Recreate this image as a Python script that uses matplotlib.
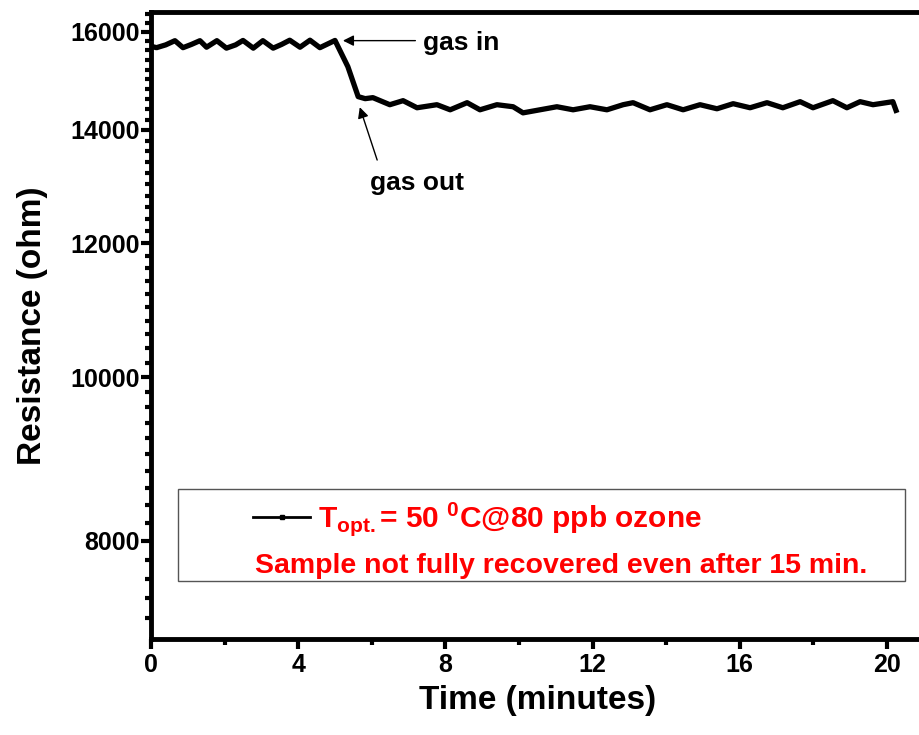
import numpy as np
import matplotlib
matplotlib.use("Agg")
import matplotlib.pyplot as plt
from matplotlib.ticker import FixedLocator, FixedFormatter, NullFormatter, MultipleLocator
from matplotlib.patches import Rectangle
from matplotlib.lines import Line2D

plt.rcParams['font.family'] = ['Liberation Sans', 'DejaVu Sans']
plt.rcParams['font.weight'] = 'bold'
plt.rcParams['mathtext.fontset'] = 'custom'
plt.rcParams['mathtext.rm'] = 'Liberation Sans:bold'
plt.rcParams['mathtext.bf'] = 'Liberation Sans:bold'
plt.rcParams['mathtext.it'] = 'Liberation Sans:bold'

# data
time_min = [0.0, 0.15, 0.4, 0.65, 0.87, 1.1, 1.33, 1.51, 1.79, 2.05, 2.3, 2.5, 2.78, 3.04,
            3.32, 3.55, 3.77, 4.05, 4.32, 4.59, 5.0, 5.35, 5.63, 5.82, 6.03, 6.49, 6.85,
            7.23, 7.77, 8.13, 8.59, 8.94, 9.40, 9.84, 10.11, 10.57, 11.03, 11.47, 11.93,
            12.39, 12.83, 13.1, 13.56, 14.02, 14.46, 14.92, 15.38, 15.82, 16.28, 16.74,
            17.17, 17.64, 17.99, 18.53, 18.91, 19.27, 19.62, 20.16, 20.27]
resistance = [15690, 15660, 15720, 15810, 15660, 15730, 15810, 15670, 15810, 15650, 15720,
              15815, 15650, 15810, 15650, 15730, 15820, 15670, 15820, 15660, 15815, 15260,
              14650, 14610, 14630, 14490, 14570, 14430, 14490, 14390, 14530, 14390, 14490,
              14450, 14330, 14390, 14450, 14390, 14450, 14390, 14490, 14530, 14390, 14490,
              14390, 14490, 14410, 14510, 14430, 14530, 14430, 14550, 14430, 14570, 14430,
              14550, 14490, 14550, 14330]

y_major = [8000, 10000, 12000, 14000, 16000]
y_labels = ['8000', '10000', '12000', '14000', '16000']
x_major = [0, 4, 8, 12, 16, 20]

fig = plt.figure(figsize=(9.19, 7.35), dpi=100)
ax = fig.add_axes([0.1643, 0.1306, 0.8409, 0.8531])

ax.plot(time_min, resistance, color='black', lw=3.8, solid_joinstyle='round',
        solid_capstyle='butt')

ax.set_yscale('log')
ax.set_xlim(0, 21)
ax.set_ylim(7000, 16440)

ax.yaxis.set_major_locator(FixedLocator(y_major))
ax.yaxis.set_major_formatter(FixedFormatter(y_labels))
ax.yaxis.set_minor_locator(FixedLocator(np.arange(7200, 16500, 200)))
ax.yaxis.set_minor_formatter(NullFormatter())
ax.xaxis.set_major_locator(FixedLocator(x_major))
ax.xaxis.set_minor_locator(MultipleLocator(2))

for s in ax.spines.values():
    s.set_linewidth(3.5)
ax.tick_params(which='major', length=7, width=3, labelsize=18, pad=1)
ax.tick_params(which='minor', length=4.5, width=3)
ax.tick_params(axis='x', which='major', pad=3)
ax.tick_params(top=False, right=False, which='both')

ax.set_xlabel('Time (minutes)', fontsize=24, fontweight='bold', labelpad=6)
ax.set_ylabel('Resistance (ohm)', fontsize=24, fontweight='bold', labelpad=16)

# annotations
ax.annotate('', xy=(5.14, 15811), xytext=(7.26, 15811),
            arrowprops=dict(arrowstyle='-|>', color='black', lw=1, mutation_scale=16))
ax.text(7.39, 15768, 'gas in', fontsize=19, fontweight='bold', ha='left', va='center')
ax.annotate('', xy=(5.65, 14493), xytext=(6.17, 13390),
            arrowprops=dict(arrowstyle='-|>', color='black', lw=1, mutation_scale=16))
ax.text(5.95, 13029, 'gas out', fontsize=19, fontweight='bold', ha='left', va='center')

# legend box drawn by hand
ax.add_patch(Rectangle((0.0349, 0.0925), 0.9408, 0.1467, transform=ax.transAxes,
                       fill=False, edgecolor='#555555', lw=1))
ax.add_line(Line2D([0.132, 0.2057], [0.1946, 0.1946], transform=ax.transAxes,
                   color='black', lw=2))
ax.add_line(Line2D([0.169], [0.1946], transform=ax.transAxes, color='black',
                   marker='s', markersize=3))
ax.text(0.2161, 0.1786, r'T$_{\mathrm{opt.}}$= 50 $^{\mathrm{0}}$C@80 ppb ozone',
        transform=ax.transAxes, color='red', fontsize=21.5, fontweight='bold',
        ha='left', va='baseline')
ax.text(0.1346, 0.1053, 'Sample not fully recovered even after 15 min.',
        transform=ax.transAxes, color='red', fontsize=20.5, fontweight='bold',
        ha='left', va='baseline')

fig.savefig('out.png', dpi=100)
